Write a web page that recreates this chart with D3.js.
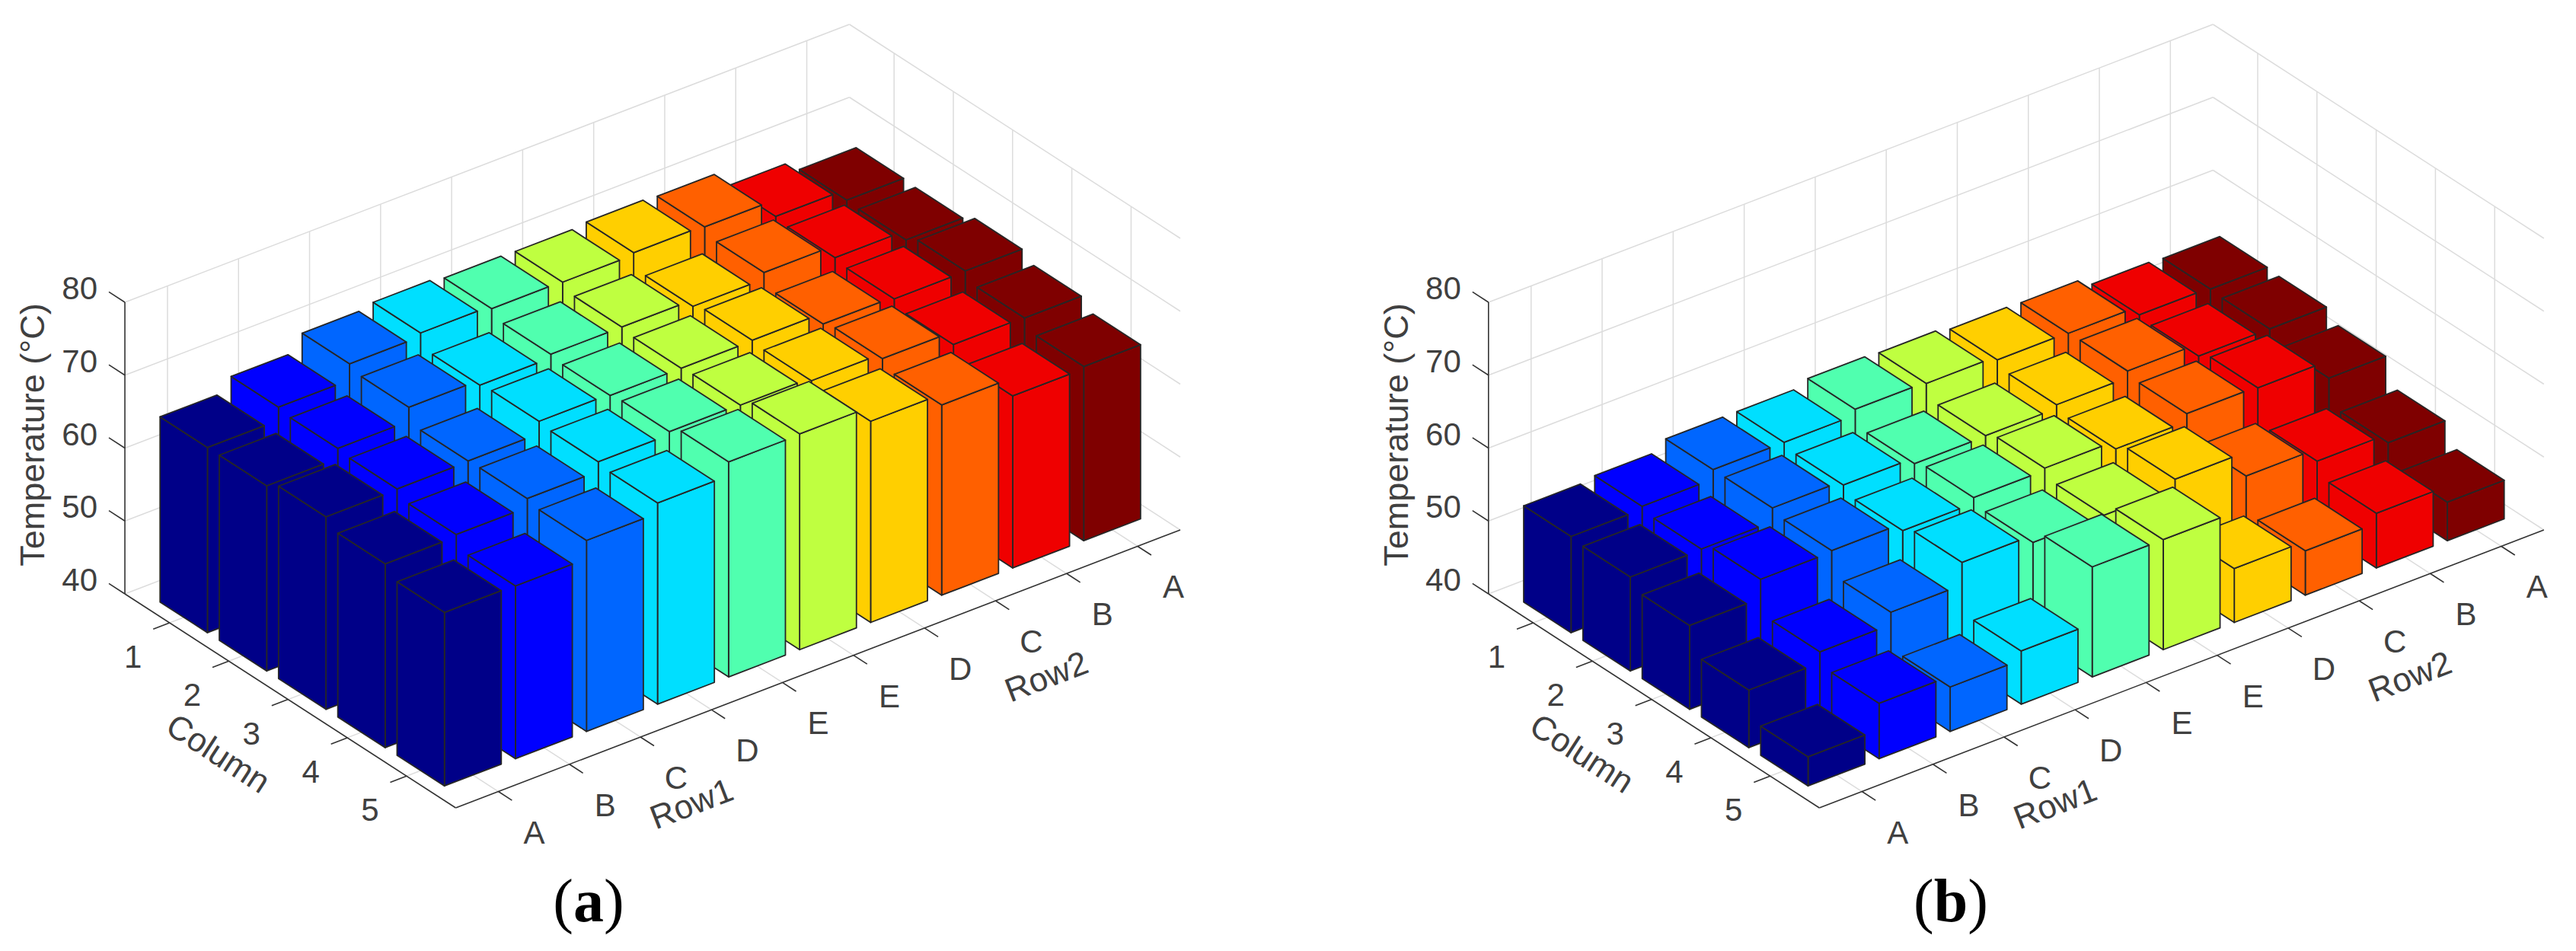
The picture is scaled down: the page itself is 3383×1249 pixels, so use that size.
<!DOCTYPE html>
<html>
<head>
<meta charset="utf-8">
<title>Temperature bars</title>
<script src="https://d3js.org/d3.v7.min.js"></script>
<style>
	html, body { margin: 0; padding: 0; background: #fff; }
	svg { display: block; }
	text { font-family: "Liberation Sans", Arial, sans-serif; fill: #404040; }
	.sub { font-family: "Liberation Serif", serif; fill: #000; }
</style>
</head>
<body>
<div id="vis"></div>
<script>
// Tick labels along the three axes
let rowLabels = ['A', 'B', 'C', 'D', 'E', 'E', 'D', 'C', 'B', 'A'];
let columnLabels = ['1', '2', '3', '4', '5'];
let zTicks = [40, 50, 60, 70, 80];

// One colour per row (jet, 10 steps)
let rowColors = ['#000088', '#0000ff', '#0066ff', '#00dfff', '#50ffaf', '#bfff40', '#ffcf00', '#ff6000', '#ef0000', '#7f0000'];

// Panel (a): temperature per row, columns 1 to 5
let tempsA = [
	[65.4, 65.4, 66.4, 65.2, 63.8],
	[67.2, 66.8, 66.5, 65.5, 63.7],
	[69.4, 68.7, 66.6, 66.7, 66.2],
	[69.9, 68.0, 68.3, 68.0, 67.6],
	[69.5, 68.5, 68.1, 68.4, 69.5],
	[69.4, 68.5, 68.1, 68.3, 69.6],
	[69.7, 67.6, 68.2, 67.9, 67.6],
	[69.5, 68.5, 66.7, 67.2, 66.1],
	[67.2, 66.8, 66.4, 65.4, 63.6],
	[65.7, 65.5, 66.5, 65.3, 63.9]
];

// Panel (b)
let tempsB = [
	[53.2, 52.9, 51.5, 47.9, 44.0],
	[53.6, 53.0, 54.1, 49.4, 47.6],
	[54.9, 54.9, 54.3, 51.1, 46.1],
	[54.9, 54.3, 53.3, 54.2, 47.3],
	[55.7, 53.5, 54.1, 53.2, 55.1],
	[55.5, 53.6, 54.4, 53.2, 55.1],
	[55.0, 54.1, 53.3, 54.4, 47.4],
	[54.9, 55.0, 54.4, 51.1, 46.1],
	[53.7, 53.3, 54.2, 49.4, 47.5],
	[53.5, 53.3, 51.8, 48.2, 45.3]
];

let W = 3383;
let H = 1249;
let PANEL_B_X = 1790.8; // horizontal shift of the second panel
let BAR = 0.4; // half bar width, in tick units

let colLim = [0.246, 5.83];
let rowLim = [0.4, 10.6];
let zLim = [40, 80];

// Screen corners of the floor in panel (a)
let left = [164, 780];
let front = [598.5, 1061];
let right = [1550, 696];

let colScale = d3.scaleLinear().domain(colLim).range([0, 1]);
let rowScale = d3.scaleLinear().domain(rowLim).range([0, 1]);
let zScale = d3.scaleLinear().domain(zLim).range([0, -383]);

/**
 * Orthographic projection of a (column, row, temperature) point to the screen.
 */
function project(c, r, z) {
	let u = colScale(c);
	let v = rowScale(r);
	return [
		left[0] + u * (front[0] - left[0]) + v * (right[0] - front[0]),
		left[1] + u * (front[1] - left[1]) + v * (right[1] - front[1]) + zScale(z)
	];
}

let poly = d3.line();

function face(points) {
	return poly(points.map(p => project(p[0], p[1], p[2]))) + 'Z';
}

function segment(g, a, b, color, width) {
	let p = project(a[0], a[1], a[2]);
	let q = project(b[0], b[1], b[2]);
	g.append('line')
			.attr('x1', p[0]).attr('y1', p[1])
			.attr('x2', q[0]).attr('y2', q[1])
			.attr('stroke', color)
			.attr('stroke-width', width);
}

let svg = d3.select('#vis').append('svg').attr('width', W).attr('height', H);
svg.append('rect').attr('width', W).attr('height', H).attr('fill', '#fff');

/**
 * Draws the light walls and floor grid.
 */
function drawGrid(g) {
	let grey = '#dcdcdc';
	let c0 = colLim[0], c1 = colLim[1], r0 = rowLim[0], r1 = rowLim[1];

	zTicks.forEach(z => {
		segment(g, [c0, r0, z], [c0, r1, z], grey, 1.5);
		segment(g, [c0, r1, z], [c1, r1, z], grey, 1.5);
	});
	rowLabels.forEach((d, i) => {
		segment(g, [c0, i + 1, zLim[0]], [c1, i + 1, zLim[0]], grey, 1.5);
		segment(g, [c0, i + 1, zLim[0]], [c0, i + 1, zLim[1]], grey, 1.5);
	});
	columnLabels.forEach((d, i) => {
		segment(g, [i + 1, r0, zLim[0]], [i + 1, r1, zLim[0]], grey, 1.5);
		segment(g, [i + 1, r1, zLim[0]], [i + 1, r1, zLim[1]], grey, 1.5);
	});
}

/**
 * Draws the dark axis lines, the ticks and all axis text.
 */
function drawAxes(g) {
	let dark = '#333333';
	let c0 = colLim[0], c1 = colLim[1], r0 = rowLim[0], r1 = rowLim[1];

	segment(g, [c0, r0, zLim[0]], [c0, r0, zLim[1]], dark, 1.6);
	segment(g, [c0, r0, zLim[0]], [c1, r0, zLim[0]], dark, 1.6);
	segment(g, [c1, r0, zLim[0]], [c1, r1, zLim[0]], dark, 1.6);

	zTicks.forEach(z => {
		segment(g, [c0, r0, z], [c0 - 0.27, r0, z], dark, 1.6);
		let p = project(c0, r0, z);
		g.append('text').text(z)
				.attr('x', p[0] - 36)
				.attr('y', p[1] - 4)
				.attr('text-anchor', 'end')
				.attr('font-size', 42);
	});

	columnLabels.forEach((d, i) => {
		segment(g, [i + 1, r0, zLim[0]], [i + 1, r0 - 0.23, zLim[0]], dark, 1.6);
		let p = project(i + 1, r0, zLim[0]);
		g.append('text').text(d)
				.attr('x', p[0] - 48)
				.attr('y', p[1] + 59)
				.attr('text-anchor', 'middle')
				.attr('font-size', 42);
	});

	rowLabels.forEach((d, i) => {
		segment(g, [c1, i + 1, zLim[0]], [c1 + 0.23, i + 1, zLim[0]], dark, 1.6);
		let p = project(c1, i + 1, zLim[0]);
		g.append('text').text(d)
				.attr('x', p[0] + 47)
				.attr('y', p[1] + 68)
				.attr('text-anchor', 'middle')
				.attr('font-size', 42);
	});

	g.append('text').text('Temperature (°C)')
			.attr('transform', 'translate(58, 571) rotate(-90)')
			.attr('text-anchor', 'middle')
			.attr('font-size', 45);
	g.append('text').text('Column')
			.attr('transform', 'translate(287, 989) rotate(33)')
			.attr('text-anchor', 'middle')
			.attr('dominant-baseline', 'central')
			.attr('font-size', 44);
	g.append('text').text('Row1')
			.attr('transform', 'translate(908, 1055) rotate(-21)')
			.attr('text-anchor', 'middle')
			.attr('dominant-baseline', 'central')
			.attr('font-size', 44);
	g.append('text').text('Row2')
			.attr('transform', 'translate(1374, 888) rotate(-21)')
			.attr('text-anchor', 'middle')
			.attr('dominant-baseline', 'central')
			.attr('font-size', 44);
}

/**
 * Draws the bars, back to front, each as its three visible faces.
 */
function drawBars(g, temps) {
	let bars = [];
	temps.forEach((row, r) => row.forEach((t, c) => bars.push({r: r + 1, c: c + 1, t: t})));
	bars.sort((a, b) => (b.r - a.r) || (a.c - b.c));

	let base = zLim[0];
	let bar = g.selectAll('g.bar').data(bars).enter().append('g').attr('class', 'bar');
	let shapes = [
		d => [[d.c + BAR, d.r - BAR, base], [d.c + BAR, d.r + BAR, base], [d.c + BAR, d.r + BAR, d.t], [d.c + BAR, d.r - BAR, d.t]],
		d => [[d.c - BAR, d.r - BAR, base], [d.c + BAR, d.r - BAR, base], [d.c + BAR, d.r - BAR, d.t], [d.c - BAR, d.r - BAR, d.t]],
		d => [[d.c - BAR, d.r - BAR, d.t], [d.c + BAR, d.r - BAR, d.t], [d.c + BAR, d.r + BAR, d.t], [d.c - BAR, d.r + BAR, d.t]]
	];
	shapes.forEach(shape => {
		bar.append('path')
				.attr('d', d => face(shape(d)))
				.attr('fill', d => rowColors[d.r - 1])
				.attr('stroke', '#262626')
				.attr('stroke-width', 1.8)
				.attr('stroke-linejoin', 'round');
	});
}

let panelA = svg.append('g');
drawGrid(panelA);
drawAxes(panelA);
drawBars(panelA, tempsA);

let panelB = svg.append('g').attr('transform', `translate(${PANEL_B_X}, 0)`);
drawGrid(panelB);
drawAxes(panelB);
drawBars(panelB, tempsB);

// Panel letters
let sub = svg.append('g').attr('font-size', 80);
[['a', 773], ['b', 2562]].forEach(d => {
	let t = sub.append('text').attr('class', 'sub')
			.attr('x', d[1]).attr('y', 1210)
			.attr('text-anchor', 'middle');
	t.append('tspan').text('(');
	t.append('tspan').text(d[0]).attr('font-weight', 'bold');
	t.append('tspan').text(')');
});
</script>
</body>
</html>
